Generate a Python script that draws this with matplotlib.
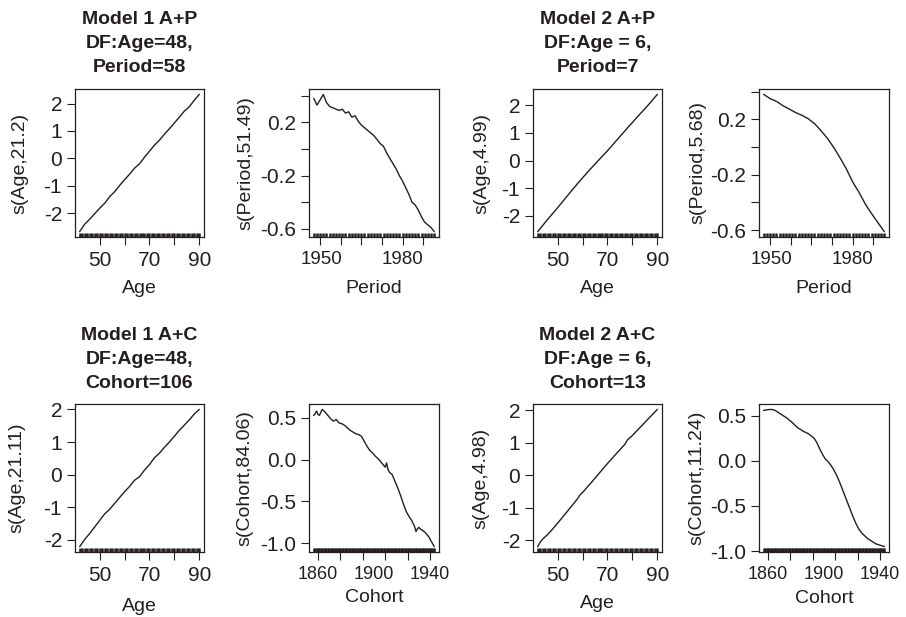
import matplotlib.pyplot as plt

plt.rcParams['font.family'] = ['Liberation Sans', 'DejaVu Sans']
plt.rcParams['font.size'] = 14
plt.rcParams['axes.unicode_minus'] = False
INK = '#231f20'

# observed values (rug marks)
age_rug = list(range(42, 91))
period_rug = list(range(1948, 1987))
cohort_rug = list(range(1858, 1945))

# Model 1 A+P
m1p_age_x = [42, 44, 46, 48, 50, 52, 54, 56, 58, 60, 62, 64, 66, 68, 70, 72, 74, 76, 78, 80, 82, 84, 86, 88, 90]
m1p_age_y = [-2.67, -2.40, -2.22, -2.02, -1.82, -1.64, -1.40, -1.22, -0.99, -0.78, -0.58, -0.36, -0.20, 0.04,
             0.26, 0.48, 0.66, 0.88, 1.08, 1.29, 1.50, 1.72, 1.88, 2.12, 2.33]
m1p_per_x = [1948, 1949, 1950, 1951, 1952, 1953, 1954, 1955, 1956, 1957, 1958, 1959, 1960, 1961, 1962, 1963,
             1964, 1965, 1966, 1967, 1968, 1969, 1970, 1971, 1972, 1973, 1974, 1975, 1976, 1977, 1978, 1979,
             1980, 1981, 1982, 1983, 1984, 1985, 1986]
m1p_per_y = [0.38, 0.33, 0.37, 0.41, 0.35, 0.32, 0.31, 0.30, 0.29, 0.30, 0.27, 0.28, 0.24, 0.25, 0.21, 0.18,
             0.16, 0.14, 0.12, 0.10, 0.07, 0.04, 0.02, -0.03, -0.07, -0.11, -0.15, -0.20, -0.24, -0.29, -0.34,
             -0.40, -0.42, -0.46, -0.51, -0.55, -0.57, -0.59, -0.62]

# Model 2 A+P
m2p_age_x = [42, 46, 50, 54, 58, 62, 66, 70, 74, 78, 82, 86, 90]
m2p_age_y = [-2.56, -2.12, -1.70, -1.26, -0.83, -0.42, -0.03, 0.35, 0.76, 1.17, 1.57, 1.96, 2.38]
m2p_per_x = [1948, 1950, 1952, 1954, 1956, 1958, 1960, 1962, 1964, 1966, 1968, 1970, 1972, 1974, 1976,
             1978, 1980, 1982, 1984, 1986]
m2p_per_y = [0.38, 0.35, 0.33, 0.30, 0.275, 0.25, 0.23, 0.205, 0.17, 0.12, 0.065, 0.0, -0.075, -0.155,
             -0.25, -0.325, -0.41, -0.48, -0.545, -0.61]

# Model 1 A+C
m1c_age_x = [42, 44, 46, 48, 50, 52, 54, 56, 58, 60, 62, 64, 66, 68, 70, 72, 74, 76, 78, 80, 82, 84, 86, 88, 90]
m1c_age_y = [-2.20, -1.98, -1.80, -1.60, -1.40, -1.20, -1.06, -0.88, -0.70, -0.52, -0.36, -0.17, -0.06, 0.14,
             0.31, 0.52, 0.66, 0.84, 1.00, 1.18, 1.36, 1.52, 1.68, 1.86, 2.00]
m1c_coh_x = [1858, 1859, 1860, 1861, 1862, 1864, 1866, 1868, 1870, 1872, 1874, 1876, 1878, 1880, 1882,
             1884, 1886, 1888, 1890, 1892, 1894, 1896, 1898, 1900, 1902, 1904, 1906, 1908, 1909, 1910,
             1911, 1912, 1914, 1916, 1918, 1920, 1922, 1924, 1926, 1928, 1930, 1931, 1932, 1933, 1934,
             1936, 1938, 1940, 1942, 1944]
m1c_coh_y = [0.53, 0.55, 0.58, 0.54, 0.53, 0.60, 0.57, 0.53, 0.49, 0.46, 0.48, 0.44, 0.43, 0.41, 0.38,
             0.35, 0.33, 0.31, 0.30, 0.28, 0.22, 0.16, 0.11, 0.08, 0.04, 0.01, -0.03, -0.07, -0.09, -0.04,
             -0.12, -0.15, -0.18, -0.26, -0.34, -0.43, -0.53, -0.62, -0.68, -0.73, -0.80, -0.86, -0.83,
             -0.81, -0.83, -0.85, -0.88, -0.92, -0.98, -1.04]

# Model 2 A+C
m2c_age_x = [42, 43, 44, 46, 48, 50, 54, 58, 59, 60, 64, 70, 74, 77, 78, 80, 84, 90]
m2c_age_y = [-2.19, -2.05, -1.96, -1.82, -1.65, -1.47, -1.10, -0.72, -0.60, -0.53, -0.18, 0.36, 0.70,
             0.95, 1.08, 1.22, 1.54, 2.02]
m2c_coh_x = [1858, 1860, 1862, 1864, 1866, 1868, 1870, 1874, 1878, 1882, 1886, 1890, 1894, 1896, 1898,
             1900, 1902, 1904, 1906, 1908, 1910, 1912, 1914, 1916, 1918, 1920, 1922, 1924, 1926, 1928,
             1930, 1932, 1934, 1936, 1938, 1940, 1942, 1944]
m2c_coh_y = [0.56, 0.565, 0.57, 0.57, 0.56, 0.54, 0.52, 0.48, 0.43, 0.37, 0.33, 0.30, 0.25, 0.20, 0.13,
             0.07, 0.02, -0.01, -0.05, -0.10, -0.16, -0.23, -0.31, -0.39, -0.47, -0.55, -0.63, -0.70,
             -0.76, -0.80, -0.83, -0.86, -0.88, -0.90, -0.92, -0.93, -0.94, -0.95]

# axis ticks as printed: tick marks, then where the labels sit
age_ticks = [50, 60, 70, 80, 90]
age_labelpos = [50, 70, 90]
age_labels = ['50', '70', '90']
period_ticks = [1950, 1956.5, 1963, 1969.5, 1976, 1982.5]
period_labelpos = [1950.3, 1976]
period_labels = ['1950', '1980']
cohort_ticks = [1861, 1877, 1893, 1909, 1925, 1941]
cohort_labelpos = [1860.5, 1901, 1940.5]
cohort_labels = ['1860', '1900', '1940']
s_age_ticks = [-2, -1, 0, 1, 2]
s_age_ticklabels = ['-2', '-1', '0', '1', '2']
s_per_ticks = [-0.6, -0.4, -0.2, 0.0, 0.2, 0.4]
s_per_ticklabels = ['-0.6', '', '-0.2', '', '0.2', '']
s_coh_ticks = [-1.0, -0.5, 0.0, 0.5]
s_coh_ticklabels = ['-1.0', '-0.5', '0.0', '0.5']

titles = [['Model 1 A+P', 'DF:Age=48,', 'Period=58'],
          ['Model 2 A+P', 'DF:Age = 6,', 'Period=7'],
          ['Model 1 A+C', 'DF:Age=48,', 'Cohort=106'],
          ['Model 2 A+C', 'DF:Age = 6,', 'Cohort=13']]

W, H = 906, 617
fig = plt.figure(figsize=(W / 100, H / 100), dpi=100)

col_left = [75, 309, 533, 759]
col_w = [129, 130, 129, 130]
row_top = [89, 404]
ph = 148
TICKLEN = 5.8


def make_ax(r, c):
    return fig.add_axes([col_left[c] / W, 1 - (row_top[r] + ph) / H, col_w[c] / W, ph / H])


def gam_panel(ax, x, y, rug, xaxis, yt, ytl, xlab, ylab, ylab_off, xlab_off):
    xt, xlpos, xl, xsize = xaxis
    r = max(rug) - min(rug)
    ax.set_xlim(min(rug) - 0.04 * r, max(rug) + 0.04 * r)
    ry = max(y) - min(y)
    ax.set_ylim(min(y) - 0.04 * ry, max(y) + 0.04 * ry)
    ax.plot(x, y, color=INK, lw=1.0)
    # rug of observed values along the bottom
    ax.vlines(rug, 0, 0.03, transform=ax.get_xaxis_transform(), color=INK, lw=1.8)
    # tick marks unlabeled; labels carried by zero-length minor ticks
    ax.xaxis.remove_overlapping_locs = False
    ax.set_xticks(xt)
    ax.set_xticklabels([])
    ax.set_xticks(xlpos, minor=True)
    ax.set_xticklabels(xl, minor=True, fontsize=xsize)
    ax.set_yticks(yt)
    ax.set_yticklabels(ytl, fontsize=15)
    ax.tick_params(which='major', direction='out', length=TICKLEN, width=0.8, colors=INK, labelcolor=INK)
    ax.tick_params(axis='x', which='minor', length=0, pad=TICKLEN + 4.0, labelcolor=INK)
    ax.tick_params(axis='y', pad=3.5)
    for s in ax.spines.values():
        s.set_linewidth(0.9)
        s.set_color(INK)
    ax.set_xlabel(xlab, color=INK)
    ax.set_ylabel(ylab, color=INK)
    ax.xaxis.label.set_va('baseline')
    ax.xaxis.set_label_coords(0.5, -xlab_off / ph)
    ax.yaxis.label.set_va('center')
    ax.yaxis.set_label_coords(-ylab_off / ax.bbox.width, 0.5)


def add_title(ax, lines, offs):
    for line, off in zip(lines, offs):
        ax.annotate(line, xy=(0.5, 1), xycoords='axes fraction', xytext=(0, off),
                    textcoords='offset pixels', ha='center', va='baseline',
                    fontweight='bold', color=INK)


age_axis = (age_ticks, age_labelpos, age_labels, 15)
period_axis = (period_ticks, period_labelpos, period_labels, 13.5)
cohort_axis = (cohort_ticks, cohort_labelpos, cohort_labels, 13)

ax = make_ax(0, 0)
gam_panel(ax, m1p_age_x, m1p_age_y, age_rug, age_axis, s_age_ticks, s_age_ticklabels,
          'Age', 's(Age,21.2)', 55, 56)
add_title(ax, titles[0], [65, 40.5, 17])

ax = make_ax(0, 1)
gam_panel(ax, m1p_per_x, m1p_per_y, period_rug, period_axis, s_per_ticks, s_per_ticklabels,
          'Period', 's(Period,51.49)', 63, 56)

ax = make_ax(0, 2)
gam_panel(ax, m2p_age_x, m2p_age_y, age_rug, age_axis, s_age_ticks, s_age_ticklabels,
          'Age', 's(Age,4.99)', 51, 56)
add_title(ax, titles[1], [65, 40.5, 17])

ax = make_ax(0, 3)
gam_panel(ax, m2p_per_x, m2p_per_y, period_rug, period_axis, s_per_ticks, s_per_ticklabels,
          'Period', 's(Period,5.68)', 61, 56)

ax = make_ax(1, 0)
gam_panel(ax, m1c_age_x, m1c_age_y, age_rug, age_axis, s_age_ticks, s_age_ticklabels,
          'Age', 's(Age,21.11)', 58, 59)
add_title(ax, titles[2], [64.5, 39.5, 16.5])

ax = make_ax(1, 1)
gam_panel(ax, m1c_coh_x, m1c_coh_y, cohort_rug, cohort_axis, s_coh_ticks, s_coh_ticklabels,
          'Cohort', 's(Cohort,84.06)', 64, 50)

ax = make_ax(1, 2)
gam_panel(ax, m2c_age_x, m2c_age_y, age_rug, age_axis, s_age_ticks, s_age_ticklabels,
          'Age', 's(Age,4.98)', 52, 56)
add_title(ax, titles[3], [64.5, 39.5, 16.5])

ax = make_ax(1, 3)
gam_panel(ax, m2c_coh_x, m2c_coh_y, cohort_rug, cohort_axis, s_coh_ticks, s_coh_ticklabels,
          'Cohort', 's(Cohort,11.24)', 62, 51)

fig.savefig('out.png', dpi=100)
